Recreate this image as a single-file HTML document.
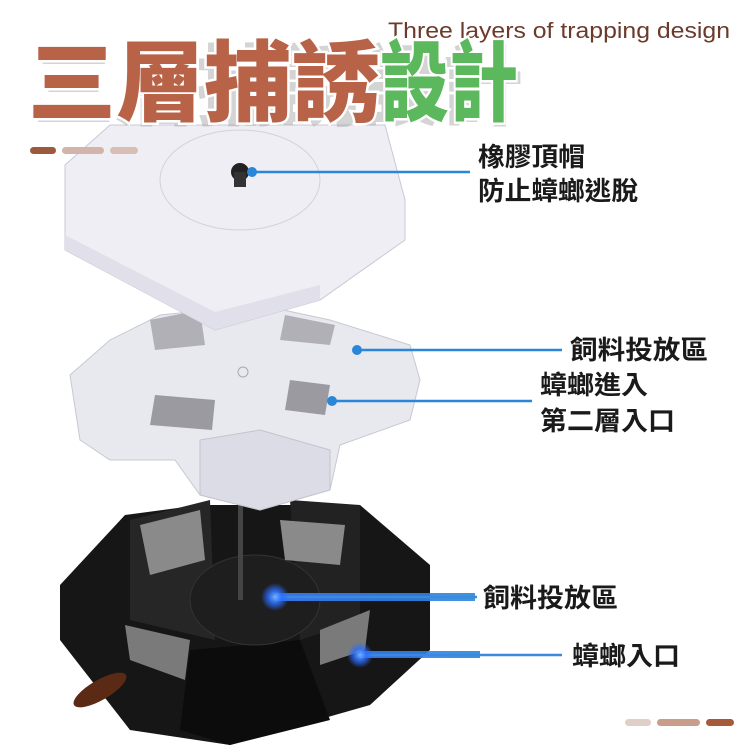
<!DOCTYPE html>
<html><head><meta charset="utf-8"><style>
html,body{margin:0;padding:0;background:#fff}
svg{display:block}
.lbl{font-family:"Liberation Sans","Noto Sans CJK TC",sans-serif;font-weight:bold;font-size:26px;fill:#1a1a1a}
.ttl{font-family:"Liberation Sans","Noto Sans CJK TC",sans-serif;font-weight:900;font-size:88px}
</style></head><body>
<svg width="750" height="750" viewBox="0 0 750 750" xmlns="http://www.w3.org/2000/svg">
<defs>
<radialGradient id="glow"><stop offset="0" stop-color="#6fb4ff"/><stop offset="0.5" stop-color="#2b6cff" stop-opacity="0.8"/><stop offset="1" stop-color="#2b6cff" stop-opacity="0"/></radialGradient>
<linearGradient id="beam" x1="0" x2="1"><stop offset="0" stop-color="#3a7bff"/><stop offset="1" stop-color="#2a86d8"/></linearGradient>
</defs>
<polygon points="60,585 125,515 200,505 360,505 430,565 430,650 370,705 230,745 130,730 60,640" fill="#161616"/>
<polygon points="130,520 210,500 215,640 130,620" fill="#262626"/>
<polygon points="290,500 360,505 360,620 300,640" fill="#222"/>
<polygon points="190,650 300,640 330,720 230,745 180,730" fill="#0c0c0c"/>
<ellipse cx="255" cy="600" rx="65" ry="45" fill="#1e1e1e" stroke="#333"/>
<polygon points="140,525 200,510 205,560 150,575" fill="#8a8a8a"/>
<polygon points="280,520 345,525 340,565 285,560" fill="#8a8a8a"/>
<polygon points="125,625 190,640 185,680 130,660" fill="#7a7a7a"/>
<polygon points="320,630 370,610 365,650 320,665" fill="#7a7a7a"/>
<rect x="238" y="470" width="5" height="130" fill="#444"/>
<ellipse cx="100" cy="690" rx="30" ry="10" fill="#5a2a14" transform="rotate(-30 100 690)"/>
<polygon points="70,375 110,340 160,315 260,305 330,320 410,345 420,380 410,420 340,445 330,490 260,510 200,495 175,460 110,460 80,440" fill="#e8e8ef" stroke="#c8c8d4"/>
<polygon points="200,440 260,430 330,450 330,490 260,510 200,495" fill="#dcdce6" stroke="#c4c4d0"/>
<polygon points="155,395 215,400 212,430 150,425" fill="#9a9aa0"/>
<polygon points="290,380 330,385 325,415 285,410" fill="#9a9aa0"/>
<polygon points="150,320 200,310 205,345 155,350" fill="#b0b0b6"/>
<polygon points="285,315 335,325 330,345 280,340" fill="#b0b0b6"/>
<circle cx="243" cy="372" r="5" fill="none" stroke="#aaa"/>
<polygon points="65,165 110,125 385,125 405,200 405,240 320,300 215,330 65,250" fill="#eeedf4" fill-opacity="0.95" stroke="#c9c8d6"/>
<polygon points="65,250 215,330 320,300 320,285 215,312 65,235" fill="#e0dfea"/>
<ellipse cx="240" cy="180" rx="80" ry="50" fill="none" stroke="#d2d2dc"/>
<circle cx="240" cy="172" r="9" fill="#222"/>
<rect x="234" y="172" width="12" height="15" fill="#333"/>
<line x1="250" y1="172" x2="470" y2="172" stroke="#2a86d8" stroke-width="2.5"/>
<circle cx="252" cy="172" r="5" fill="#2a86d8"/>
<line x1="355" y1="350" x2="562" y2="350" stroke="#2a86d8" stroke-width="2.5"/>
<circle cx="357" cy="350" r="5" fill="#2a86d8"/>
<line x1="330" y1="401" x2="532" y2="401" stroke="#2a86d8" stroke-width="2.5"/>
<circle cx="332" cy="401" r="5" fill="#2a86d8"/>
<rect x="275" y="593" width="200" height="8" fill="url(#beam)" opacity="0.9"/>
<line x1="275" y1="597" x2="477" y2="597" stroke="#3a8ae0" stroke-width="2.5"/>
<circle cx="275" cy="597" r="14" fill="url(#glow)"/>
<rect x="360" y="651" width="120" height="7" fill="url(#beam)" opacity="0.9"/>
<line x1="360" y1="655" x2="562" y2="655" stroke="#3a8ae0" stroke-width="2.5"/>
<circle cx="360" cy="655" r="13" fill="url(#glow)"/>
<text x="478" y="166" class="lbl" textLength="107" lengthAdjust="spacingAndGlyphs">橡膠頂帽</text>
<text x="478" y="200" class="lbl" textLength="160" lengthAdjust="spacingAndGlyphs">防止蟑螂逃脫</text>
<text x="570" y="359" class="lbl" textLength="138" lengthAdjust="spacingAndGlyphs">飼料投放區</text>
<text x="540" y="394" class="lbl" textLength="108" lengthAdjust="spacingAndGlyphs">蟑螂進入</text>
<text x="540" y="430" class="lbl" textLength="135" lengthAdjust="spacingAndGlyphs">第二層入口</text>
<text x="483" y="607" class="lbl" textLength="135" lengthAdjust="spacingAndGlyphs">飼料投放區</text>
<text x="572" y="665" class="lbl" textLength="108" lengthAdjust="spacingAndGlyphs">蟑螂入口</text>
<text x="388" y="38" font-family="Liberation Sans,sans-serif" font-size="22" fill="#6b3a2a" textLength="342" lengthAdjust="spacingAndGlyphs">Three layers of trapping design</text>
<text x="30" y="115" class="ttl" fill="#aaa" opacity="0.5" textLength="490" lengthAdjust="spacingAndGlyphs" transform="translate(3,3)">三層捕誘設計</text>
<text x="28" y="114" class="ttl" fill="#b86347" stroke="#fff" stroke-width="5" paint-order="stroke" textLength="352" lengthAdjust="spacingAndGlyphs">三層捕誘</text>
<text x="380" y="114" class="ttl" fill="#5cb85c" stroke="#fff" stroke-width="5" paint-order="stroke" textLength="138" lengthAdjust="spacingAndGlyphs">設計</text>
<rect x="30" y="147" width="26" height="7" rx="3.5" fill="#9b5a3e"/>
<rect x="62" y="147" width="42" height="7" rx="3.5" fill="#d2b4ab"/>
<rect x="110" y="147" width="28" height="7" rx="3.5" fill="#d8bfb6"/>
<rect x="625" y="719" width="26" height="7" rx="3.5" fill="#e0cfc9"/>
<rect x="657" y="719" width="43" height="7" rx="3.5" fill="#c89e8a"/>
<rect x="706" y="719" width="28" height="7" rx="3.5" fill="#a55a3c"/>
</svg>
</body></html>
